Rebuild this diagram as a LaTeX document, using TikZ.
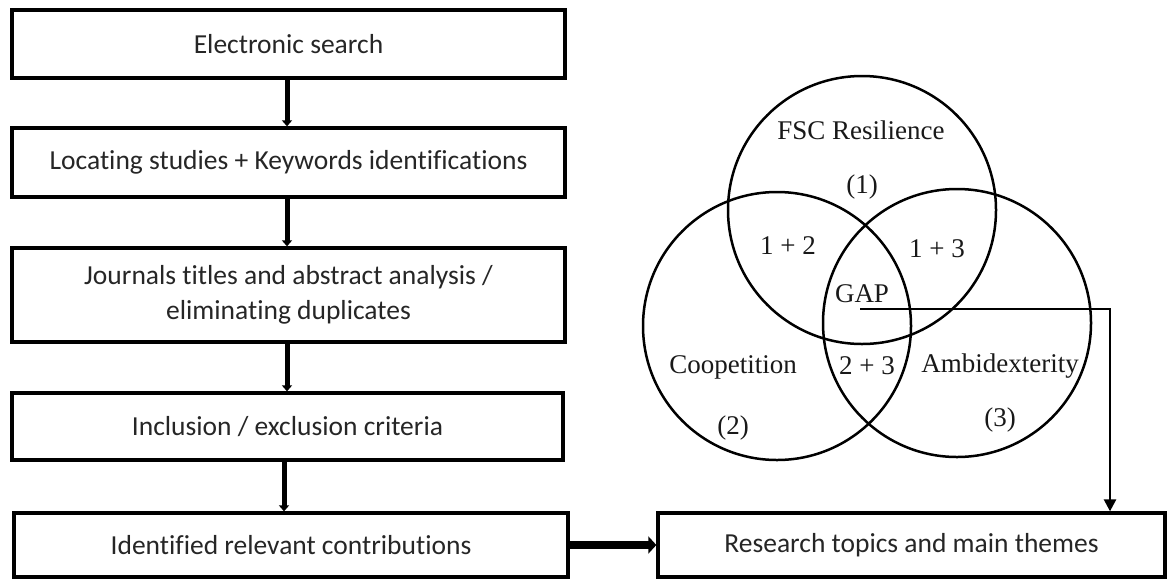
\documentclass[tikz,border=0pt]{standalone}
\usepackage{fontspec}
\setmainfont[Ligatures={NoCommon}]{Carlito}
\newfontfamily\venn{Liberation Serif}
\usetikzlibrary{arrows.meta,calc}
\begin{document}
\begin{tikzpicture}[x=1pt,y=-1pt,
  stepbox/.style={draw=black, line width=3.3pt, fill=white, inner sep=0pt, align=center,
    font=\fontsize{27.5}{35}\selectfont, text=black!85},
  vcirc/.style={circle, draw=black, line width=2.5pt, minimum size=268pt, inner sep=0pt},
  vlab/.style={font=\venn\fontsize{27}{30}\selectfont, inner sep=0pt, text=black!90},
  downarrow/.style={line width=5pt, -{Triangle[width=10pt,length=6pt]}},
  sidearrow/.style={line width=8pt, -{Triangle[width=17pt,length=8pt]}},
  gaparrow/.style={line width=2.5pt, -{Triangle[width=12pt,length=12pt]}}
]
\useasboundingbox (0,0) rectangle (1169,579);
\fill[white] (0,0) rectangle (1169,579);

% flow boxes
\node[stepbox, minimum width=553pt, minimum height=68pt] (b1) at (288.5,44) {Electronic search};
\node[stepbox, minimum width=553pt, minimum height=69pt] (b2) at (288.5,162.5) {Locating studies + Keywords identifications};
\node[stepbox, minimum width=553pt, minimum height=94pt] (b3) at (288.5,295) {Journals titles and abstract analysis /\\eliminating duplicates};
\node[stepbox, minimum width=551pt, minimum height=67pt] (b4) at (287.5,426.5) {Inclusion / exclusion criteria};
\node[stepbox, minimum width=554pt, minimum height=64pt] (b5) at (291,545) {Identified relevant contributions};
\node[stepbox, minimum width=507pt, minimum height=64pt] (rt) at (911.5,545) {Research topics and main themes};

% vertical arrows
\draw[downarrow] (b1.south -| 287,0) -- (b2.north -| 287,0);
\draw[downarrow] (b2.south -| 287,0) -- (b3.north -| 287,0);
\draw[downarrow] (b3.south -| 287,0) -- (b4.north -| 287,0);
\draw[downarrow] (b4.south -| 284,0) -- (b5.north -| 284,0);
\draw[sidearrow] (b5.east) -- (rt.west);

% Venn diagram
\node[vcirc] (c1) at (862,210) {};
\node[vcirc] (c2) at (777,326) {};
\node[vcirc] (c3) at (957,323) {};

\node[vlab] (l1) at (861,130) {FSC Resilience};
\node[vlab] (n1) at (862,187) {(1)};
\node[vlab] (l12) at (788,246) {1 + 2};
\node[vlab] (l13) at (937,249) {1 + 3};
\node[vlab] (gap) at (862,294) {GAP};
\node[vlab] (l2) at (733,367) {Coopetition};
\node[vlab] (l23) at (867,366) {2 + 3};
\node[vlab] (l3) at (1000,366) {Ambidexterity};
\node[vlab] (n2) at (733,428) {(2)};
\node[vlab] (n3) at (1000,420) {(3)};

% GAP connector
\coordinate (g) at (860,309);
\coordinate (gx) at (1110,0);
\draw[gaparrow] (g) -| (gx |- rt.north);
\end{tikzpicture}
\end{document}
